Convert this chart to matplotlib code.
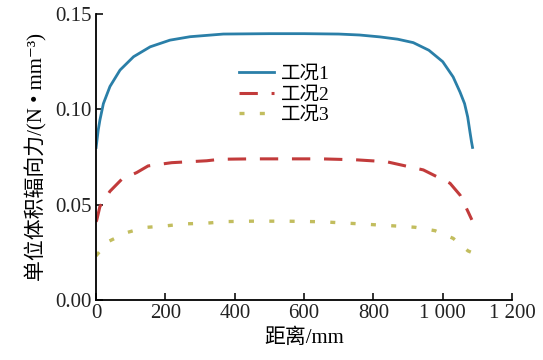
import matplotlib
matplotlib.use("Agg")
from matplotlib import pyplot as plt
from matplotlib.ticker import FuncFormatter

plt.rcParams['font.family'] = ['Liberation Serif', 'Noto Sans CJK SC', 'DejaVu Sans']

# 工况1
x1 = [0, 2, 6, 11, 21, 40, 69, 108, 156, 213, 271, 367, 500, 600, 700, 760,
      819, 870, 915, 960, 1000, 1030, 1050, 1063, 1072, 1079, 1083, 1086]
y1 = [0.080, 0.083, 0.089, 0.0944, 0.103, 0.112, 0.1206, 0.1276, 0.1328,
      0.1363, 0.1381, 0.1395, 0.1397, 0.1397, 0.1395, 0.139, 0.138, 0.1368,
      0.135, 0.131, 0.125, 0.117, 0.109, 0.103, 0.096, 0.0876, 0.083, 0.080]

# 工况2
x2 = [0, 2, 11, 40, 74, 117, 150, 218, 319, 358, 450, 550, 650, 750, 838,
      944, 1021, 1050, 1073, 1084]
y2 = [0.041, 0.042, 0.049, 0.057, 0.0633, 0.0668, 0.0703, 0.072, 0.073,
      0.0738, 0.074, 0.074, 0.074, 0.0735, 0.0725, 0.0682, 0.0612, 0.055,
      0.0463, 0.042]

# 工况3
x3 = [0, 2, 35, 88, 141, 199, 257, 314, 377, 450, 550, 650, 750, 862, 920,
      978, 1030, 1073, 1082]
y3 = [0.023, 0.0236, 0.0306, 0.0353, 0.038, 0.0388, 0.0399, 0.0402, 0.0411,
      0.0413, 0.0413, 0.041, 0.040, 0.0388, 0.0381, 0.0363, 0.0323, 0.0257,
      0.025]

labels = ["工况1", "工况2", "工况3"]
xticks = [0, 200, 400, 600, 800, 1000, 1200]
yticks = [0.00, 0.05, 0.10, 0.15]

fig = plt.figure(figsize=(5.43, 3.6), dpi=100)
ax = fig.add_axes([0.177, 0.167, 0.766, 0.794])

ax.plot(x1, y1, color="#2a7fa8", lw=2.0, label=labels[0])
ax.plot(x2, y2, color="#c23b3b", lw=2.2, linestyle=(0, (6, 4.5)), label=labels[1])
ax.plot(x3, y3, color="#c2bd5e", lw=2.4, linestyle=(0, (1.5, 4.6)), label=labels[2])

ax.set_xlim(0, 1200)
ax.set_ylim(0, 0.15)
ax.set_xticks(xticks)
ax.set_yticks(yticks)
ax.xaxis.set_major_formatter(FuncFormatter(lambda v, p: f"{int(v):,}".replace(",", " ")))
ax.yaxis.set_major_formatter(FuncFormatter(lambda v, p: f"{v:.2f}"))

for s in ["top", "right"]:
    ax.spines[s].set_visible(False)
for s in ["left", "bottom"]:
    ax.spines[s].set_linewidth(1.3)
ax.tick_params(direction="in", length=5, width=1.3, labelsize=15, pad=3, colors="#222222")

ax.set_xlabel("距离/mm", fontsize=15, labelpad=4)
ax.set_ylabel("单位体积辐向力/(N • mm⁻³)", fontsize=15, labelpad=6)

ax.legend(loc="upper left", bbox_to_anchor=(0.425, 0.84), bbox_transform=fig.transFigure,
          frameon=False, fontsize=14, handlelength=1.8, handletextpad=0.4,
          labelspacing=0.15, borderaxespad=0)

fig.savefig("out.png", dpi=100)
